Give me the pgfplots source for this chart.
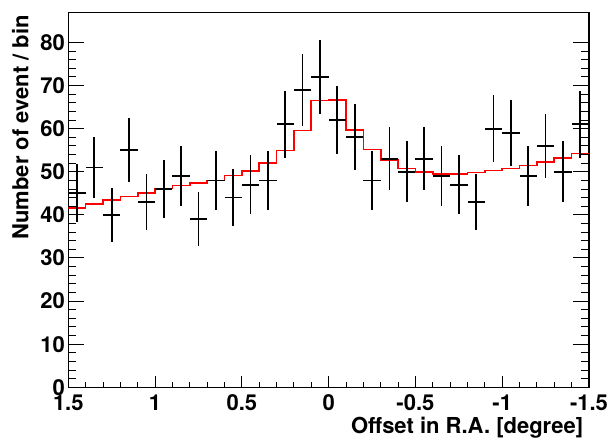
\documentclass[border=0pt]{standalone}
\usepackage{fontspec}
\setmainfont{TeX Gyre Heros}
\usepackage{pgfplots}
\pgfplotsset{compat=1.18}
\usepackage{pgfplotstable}

\pgfplotstableread{
x y ex ey
1.45 45 0.05 6.71
1.35 51 0.05 7.14
1.25 40 0.05 6.32
1.15 55 0.05 7.42
1.05 43 0.05 6.56
0.95 46 0.05 6.78
0.85 49 0.05 7.00
0.75 39 0.05 6.24
0.65 48 0.05 6.93
0.55 44 0.05 6.63
0.45 47 0.05 6.86
0.35 48 0.05 6.93
0.25 61 0.05 7.81
0.15 69 0.05 8.31
0.05 72 0.05 8.49
-0.05 62 0.05 7.87
-0.15 58 0.05 7.62
-0.25 48 0.05 6.93
-0.35 53 0.05 7.28
-0.45 50 0.05 7.07
-0.55 53 0.05 7.28
-0.65 49 0.05 7.00
-0.75 47 0.05 6.86
-0.85 43 0.05 6.56
-0.95 60 0.05 7.75
-1.05 59 0.05 7.68
-1.15 49 0.05 7.00
-1.25 56 0.05 7.48
-1.35 50 0.05 7.07
-1.45 61 0.05 7.81
}\datatable

\pgfplotstableread{
x y
1.5 41.6
1.4 42.5
1.3 43.4
1.2 44.3
1.1 45.1
1.0 46.1
0.9 46.8
0.8 47.4
0.7 48.0
0.6 49.1
0.5 50.2
0.4 52.0
0.3 54.9
0.2 59.6
0.1 66.5
0.0 66.6
-0.1 59.7
-0.2 55.2
-0.3 52.7
-0.4 50.8
-0.5 50.0
-0.6 49.5
-0.7 49.5
-0.8 49.8
-0.9 50.3
-1.0 50.8
-1.1 51.5
-1.2 52.2
-1.3 53.2
-1.4 54.2
-1.5 54.2
}\modeltable

\begin{document}
\begin{tikzpicture}
\useasboundingbox (-68.3bp,-55.7bp) rectangle (542.7bp,387.3bp);
\begin{axis}[
  at={(0,0)}, anchor=south west,
  scale only axis, width=520.7bp, height=374.6bp,
  x dir=reverse,
  xmin=-1.5, xmax=1.5, ymin=0, ymax=86.9,
  xtick={1.5,1,0.5,0,-0.5,-1,-1.5},
  xticklabels={1.5,1,0.5,0,-0.5,-1,-1.5},
  ytick={0,10,20,30,40,50,60,70,80},
  yticklabels={0,10,20,30,40,50,60,70,80},
  minor x tick num=4, minor y tick num=4,
  tick align=inside,
  xtick pos=left, ytick pos=both,
  yticklabel pos=left,
  major tick length=15.6bp, minor tick length=7.8bp,
  every major x tick/.append style={/pgfplots/major tick length=11.2bp},
  every minor x tick/.append style={/pgfplots/minor tick length=5.6bp},
  tick style={black, line width=1bp},
  axis line style={black, line width=1.2bp},
  tick label style={font=\fontsize{22bp}{26bp}\selectfont\bfseries},
  xticklabel style={yshift=-3.7bp},
  xlabel={Offset in R.A. [degree]},
  ylabel={Number of event / bin},
  every axis x label/.style={at={([xshift=-2.3bp, yshift=-46bp]rel axis cs:1,0)}, anchor=base east, font=\fontsize{22bp}{26bp}\selectfont\bfseries},
  every axis y label/.style={at={([xshift=-40bp, yshift=1bp]rel axis cs:0,1)}, anchor=base east, rotate=90, font=\fontsize{22bp}{26bp}\selectfont\bfseries},
]
\addplot[const plot, color=red, line width=1.6bp, mark=none] table[x=x, y=y] {\modeltable};
\addplot[draw=none, mark=none,
  error bars/.cd, x dir=both, x explicit, y dir=both, y explicit,
  error mark=none, error bar style={black, line width=1.7bp}]
  table[x=x, y=y, x error=ex, y error=ey] {\datatable};
\end{axis}
\end{tikzpicture}
\end{document}
